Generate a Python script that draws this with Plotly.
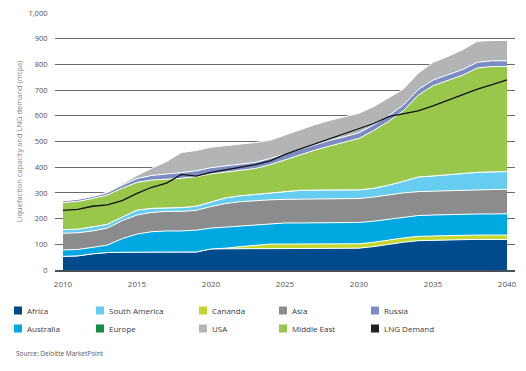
import plotly.graph_objects as go

years = list(range(2010, 2041))

africa = [53, 55, 63, 68, 69, 70, 70, 70, 70, 70, 82, 83, 83, 83, 83, 83, 83, 83, 83, 84, 85,
          91, 100, 108, 114, 116, 117, 118, 119, 119, 119]
canada = [0, 0, 0, 0, 0, 0, 0, 0, 0, 0, 0, 2, 8, 14, 18, 18, 18, 18, 18, 18, 17,
          17, 17, 17, 17, 17, 17, 17, 17, 17, 17]
australia = [25, 25, 25, 29, 53, 70, 79, 82, 82, 85, 81, 82, 80, 79, 80, 82, 82, 83, 83, 82, 83,
             82, 81, 81, 81, 81, 82, 82, 82, 82, 83]
asia = [65, 65, 64, 66, 70, 74, 75, 76, 76, 77, 84, 92, 95, 94, 92, 92, 93, 92, 92, 93, 93,
        94, 94, 94, 93, 93, 93, 94, 94, 95, 95]
south_america = [14, 14, 16, 15, 14, 19, 16, 14, 15, 16, 18, 22, 23, 24, 28, 30, 34, 35, 35, 34, 34,
                 34, 38, 45, 57, 59, 62, 65, 68, 69, 69]
europe = [0] * 31
middle_east = [105, 108, 110, 114, 112, 108, 110, 111, 114, 115, 109, 100, 99, 101, 109, 124, 138, 155, 171, 185, 200,
               225, 248, 275, 318, 351, 367, 382, 406, 410, 409]
russia = [7, 8, 8, 9, 12, 15, 18, 20, 22, 23, 24, 24, 24, 24, 24, 22, 22, 22, 22, 22, 22,
          22, 22, 22, 22, 22, 22, 22, 22, 22, 22]
usa = [1, 1, 1, 2, 5, 12, 28, 49, 78, 79, 80, 79, 78, 77, 71, 75, 75, 77, 78, 77, 76,
       71, 69, 62, 64, 69, 71, 77, 82, 79, 79]
lng_demand = [232, 236, 248, 253, 270, 298, 322, 338, 372, 365, 380, 390, 400, 410, 425, 450, 470, 490, 509, 529, 548,
              570, 597, 608, 619, 639, 660, 682, 704, 721, 740]

y_ticks = [0, 100, 200, 300, 400, 500, 600, 700, 800, 900, 1000]
x_ticks = [2010, 2015, 2020, 2025, 2030, 2035, 2040]

colors = {
    "Africa": "#004B8D",
    "South America": "#66CCF0",
    "Cananda": "#C4D72E",
    "Asia": "#8B8C8E",
    "Russia": "#7B8CC4",
    "Australia": "#00A8E1",
    "Europe": "#138D3F",
    "USA": "#B2B4B6",
    "Middle East": "#98C74B",
    "LNG Demand": "#222222",
}

stack = [
    ("Africa", africa),
    ("Cananda", canada),
    ("Australia", australia),
    ("Asia", asia),
    ("South America", south_america),
    ("Europe", europe),
    ("Middle East", middle_east),
    ("Russia", russia),
    ("USA", usa),
]

fig = go.Figure()
for name, vals in stack:
    fig.add_trace(go.Scatter(
        x=years, y=vals, name=name, mode="lines", stackgroup="one",
        line=dict(color="white", width=1), fillcolor=colors[name], showlegend=False,
    ))
fig.add_trace(go.Scatter(
    x=years, y=lng_demand, name="LNG Demand", mode="lines",
    line=dict(color="#111111", width=1.3), showlegend=False,
))

W, H = 526, 371
L, R, T, B = 55, 11, 13, 101
PW, PH = W - L - R, H - T - B


def px_x(px):
    return (px - L) / PW


def px_y(py):
    return (H - B - py) / PH


# custom legend (swatches + labels)
legend_cols = [
    (14, ["Africa", "Australia"]),
    (96, ["South America", "Europe"]),
    (199, ["Cananda", "USA"]),
    (279, ["Asia", "Middle East"]),
    (371, ["Russia", "LNG Demand"]),
]
row_y = [310.5, 328.5]
shapes = []
annotations = []
for x0, names in legend_cols:
    for ry, nm in zip(row_y, names):
        shapes.append(dict(type="rect", xref="paper", yref="paper",
                           x0=px_x(x0), x1=px_x(x0 + 8), y0=px_y(ry + 4), y1=px_y(ry - 4),
                           fillcolor=colors[nm], line=dict(width=0)))
        annotations.append(dict(xref="paper", yref="paper", x=px_x(x0 + 10.5), y=px_y(ry),
                                xanchor="left", yanchor="middle", showarrow=False, text=nm,
                                font=dict(size=8, color="#3a3a3a")))
annotations.append(dict(xref="paper", yref="paper", x=px_x(14), y=px_y(353.5),
                        xanchor="left", yanchor="middle", showarrow=False,
                        text="Source: Deloitte MarketPoint",
                        font=dict(size=6.5, color="#555555")))

span = 2040 - 2010
pad = 8 / (444 / span)
fig.update_layout(
    width=W, height=H,
    margin=dict(l=L, r=R, t=T, b=B, autoexpand=False),
    paper_bgcolor="white", plot_bgcolor="white",
    font=dict(family="Open Sans, sans-serif", size=8, color="#555555"),
    showlegend=False,
    hovermode=False,
    shapes=shapes,
    annotations=annotations,
    xaxis=dict(
        range=[2010 - pad, 2040 + pad], tickvals=x_ticks, ticktext=[str(v) for v in x_ticks],
        showgrid=False, zeroline=False, showline=True, linecolor="#46505a", linewidth=2,
        ticks="outside", ticklen=5, tickcolor="rgba(0,0,0,0)",
        ticklabeloverflow="allow",
        tickfont=dict(size=8, color="#555555"),
    ),
    yaxis=dict(
        range=[0, 1000], tickvals=y_ticks, tickformat=",",
        showgrid=True, gridcolor="#6a6a6a", gridwidth=1, zeroline=False,
        ticks="outside", ticklen=5, tickcolor="rgba(0,0,0,0)",
        tickfont=dict(size=7.5, color="#5a4d45"),
        title=dict(text="Liquefaction capacity and LNG demand (mtpa)",
                   font=dict(size=7.5, color="#8f7f70"), standoff=4),
        automargin=False,
    ),
)

fig.write_html(
    "out.html",
    config={"displayModeBar": False, "staticPlot": True},
    post_script="document.body.style.margin='0px';document.body.style.overflow='hidden';",
)
